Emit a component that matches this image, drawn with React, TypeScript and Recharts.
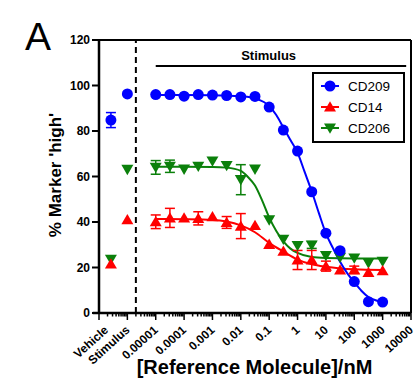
import React from 'react';
import {
  ComposedChart,
  Line,
  Scatter,
  XAxis,
  YAxis,
  ErrorBar,
  ReferenceLine,
  ReferenceDot,
  Legend,
} from 'recharts';

const FONT = '"Liberation Sans", Arial, sans-serif';
const BLUE = '#0000ff';
const RED = '#ff0000';
const GREEN = '#0b800b';

// log10 of concentration (nM)
const concLog = [-5, -4.5, -4, -3.5, -3, -2.5, -2, -1.5, -1, -0.5, 0, 0.5, 1, 1.5, 2, 2.5, 3];
const vehicleX = -6.58;
const stimulusX = -6;

const cd209 = [96, 96, 95.3, 96, 95.8, 95.6, 95, 95.2, 90.5, 80.4, 71.2, 53.3, 35.1, 27.4, 13.8, 5.0, 4.8];
const cd209Err = [0, 0, 0, 0, 0, 0, 0, 0, 0, 0, 0, 0, 0, 0, 0, 0, 0];
const cd209Ctrl = [84.8, 96.3];
const cd209CtrlErr = [3.3, 0];

const cd14 = [40.1, 41.8, 41.8, 41.6, 42.3, 39.8, 38.2, 38.5, 30.2, 27.2, 23.3, 23.3, 20.6, 18.9, 19.0, 17.8, 18.6];
const cd14Err = [3, 4.2, 0, 2.9, 0, 2.6, 5.5, 0, 0, 0, 4.2, 4.2, 2.2, 0, 1.6, 0, 0];
const cd14Ctrl = [21.6, 41.0];

const cd206 = [64, 64.5, 63.2, 64.5, 66.8, 64.8, 58.6, 63.2, 40.9, 32.4, 29.6, 29.9, 25.2, 24.5, 24.1, 22.0, 22.7];
const cd206Err = [3, 2.7, 0, 0, 0, 0, 6.6, 0, 0, 0, 0, 1.5, 0, 0, 0, 0, 0];
const cd206Ctrl = [23.6, 63.1];

// fitted curves
const cd209FitX = [-5, -4, -3, -2, -1.5, -1, -0.75, -0.5, -0.25, 0, 0.25, 0.5, 0.75, 1, 1.25, 1.5, 1.75, 2, 2.25, 2.5, 2.75, 3];
const cd209FitY = [95.8, 95.8, 95.7, 95.3, 94.3, 91, 87, 81.5, 76, 70.5, 62, 53.5, 44, 35, 28.5, 22.5, 17.5, 13.5, 9.8, 7, 5.6, 4.8];

const cd14FitX = [-5, -4, -3, -2.5, -2, -1.5, -1, -0.5, 0, 0.5, 1, 1.5, 2, 3];
const cd14FitY = [41.3, 41.2, 40.9, 40.2, 38.5, 35.5, 30.8, 27, 23.5, 21.4, 20.3, 19.6, 19.2, 18.9];

const cd206FitX = [-5, -4, -3, -2.5, -2, -1.75, -1.5, -1.25, -1, -0.75, -0.5, -0.25, 0, 0.5, 1, 2, 3];
const cd206FitY = [64.3, 64.3, 64.2, 63.9, 62.5, 59.8, 56, 49.5, 42, 36, 31.5, 28.3, 26.4, 24.6, 24.2, 24, 24];

const xTickValues = [-6.75, -6, -5, -4, -3, -2, -1, 0, 1, 2, 3, 4];
const xTickLabels = ['Vehicle', 'Stimulus', '0.00001', '0.0001', '0.001', '0.01', '0.1', '1', '10', '100', '1000', '10000'];
const yTicks = [0, 20, 40, 60, 80, 100, 120];

const seriesNames = ['CD209', 'CD14', 'CD206'];

// axis decoration: log minor ticks
const majorTicks: number[] = [];
const minorTicks: number[] = [];
for (let d = -7; d <= 4; d++) {
  majorTicks.push(d);
  if (d < 4) for (let k = 2; k <= 9; k++) minorTicks.push(d + Math.log10(k));
}
const allTicks = [...majorTicks, ...minorTicks, -6.75].sort((a, b) => a - b);

const mkPts = (ys: number[], errs: number[]) => concLog.map((x, i) => ({ x, y: ys[i], err: errs[i] }));
const mkCtrl = (ys: number[], errs?: number[]) => [
  { x: vehicleX, y: ys[0], err: errs ? errs[0] : 0 },
  { x: stimulusX, y: ys[1], err: errs ? errs[1] : 0 },
];
const mkFit = (xs: number[], ys: number[]) => xs.map((x, i) => ({ x, y: ys[i] }));

const cd209Pts = [...mkCtrl(cd209Ctrl, cd209CtrlErr), ...mkPts(cd209, cd209Err)];
const cd14Pts = [...mkCtrl(cd14Ctrl), ...mkPts(cd14, cd14Err)];
const cd206Pts = [...mkCtrl(cd206Ctrl), ...mkPts(cd206, cd206Err)];

const Circle = (p: any) => <circle cx={p.cx} cy={p.cy} r={5.5} fill={BLUE} />;
const TriUp = (p: any) => (
  <polygon
    points={`${p.cx},${p.cy - 5.7} ${p.cx + 6},${p.cy + 4.6} ${p.cx - 6},${p.cy + 4.6}`}
    fill={RED}
  />
);
const TriDown = (p: any) => (
  <polygon
    points={`${p.cx},${p.cy + 5.7} ${p.cx + 6},${p.cy - 4.6} ${p.cx - 6},${p.cy - 4.6}`}
    fill={GREEN}
  />
);

const XTick = (props: any) => {
  const { x, y, payload } = props;
  const v = payload.value as number;
  const idx = xTickValues.findIndex((t) => Math.abs(t - v) < 1e-6);
  const isMajor = majorTicks.some((t) => Math.abs(t - v) < 1e-6);
  const isMinor = minorTicks.some((t) => Math.abs(t - v) < 1e-6);
  const lx = x + 3;
  const ly = y + 18;
  return (
    <g>
      {(isMajor || isMinor) && (
        <line x1={x} y1={y} x2={x} y2={y + (isMajor ? 7 : 3.5)} stroke="#000" strokeWidth={1.5} />
      )}
      {idx >= 0 && (
        <text
          x={lx}
          y={ly}
          transform={`rotate(-42 ${lx} ${ly})`}
          textAnchor="end"
          fontSize={12}
          fontWeight="bold"
          fontFamily={FONT}
          fill="#000"
        >
          {xTickLabels[idx]}
        </text>
      )}
    </g>
  );
};

const renderLegend = () => {
  const shapes = [
    <circle cx={16} cy={12} r={5.5} fill={BLUE} />,
    <polygon points="16,27.3 22,37.6 10,37.6" fill={RED} />,
    <polygon points="16,59.7 22,49.4 10,49.4" fill={GREEN} />,
  ];
  const colors = [BLUE, RED, GREEN];
  return (
    <div
      style={{
        boxSizing: 'border-box',
        width: 93,
        height: 71,
        border: '2px solid #000',
        background: '#fff',
      }}
    >
      <svg width={89} height={67} style={{ display: 'block' }}>
        {seriesNames.map((n, i) => (
          <g key={n}>
            <line x1={7} x2={25} y1={12 + i * 21} y2={12 + i * 21} stroke={colors[i]} strokeWidth={2} />
            {shapes[i]}
            <text x={34} y={12 + i * 21 + 5} fontSize={13.5} fontFamily={FONT} fill="#000">
              {n}
            </text>
          </g>
        ))}
      </svg>
    </div>
  );
};

export default function App() {
  return (
    <div style={{ position: 'absolute', left: 0, top: 0, width: 419, height: 391, background: '#fff' }}>
      <svg width={60} height={60} style={{ position: 'absolute', left: 0, top: 0 }}>
        <text x={25} y={50} fontSize={39} fontFamily={FONT} fill="#000">
          A
        </text>
      </svg>
      <ComposedChart
        width={419}
        height={391}
        margin={{ top: 40, right: 8, bottom: 0, left: 0 }}
        style={{ position: 'absolute', left: 0, top: 0 }}
      >
        <XAxis
          dataKey="x"
          type="number"
          domain={[-7, 4]}
          allowDataOverflow
          ticks={allTicks}
          interval={0}
          tick={<XTick />}
          tickLine={false}
          tickSize={0}
          tickMargin={0}
          height={78}
          axisLine={{ stroke: '#000', strokeWidth: 2.5 }}
          label={() => (
            <text x={254.5} y={374} textAnchor="middle" fontSize={20} fontWeight="bold" fontFamily={FONT} fill="#000">
              [Reference Molecule]/nM
            </text>
          )}
        />
        <YAxis
          type="number"
          domain={[0, 120]}
          ticks={yTicks}
          interval={0}
          width={99}
          tickSize={7}
          tickMargin={2}
          axisLine={{ stroke: '#000', strokeWidth: 2.5 }}
          tickLine={{ stroke: '#000', strokeWidth: 2 }}
          tick={{ fontSize: 12, fontWeight: 'bold', fill: '#000', fontFamily: FONT }}
          label={() => (
            <text
              x={61}
              y={175}
              transform="rotate(-90 61 175)"
              textAnchor="middle"
              fontSize={17}
              fontWeight="bold"
              fontFamily={FONT}
              fill="#000"
            >
              % Marker 'high'
            </text>
          )}
        />
        <ReferenceLine y={120} stroke="#000" strokeWidth={2} ifOverflow="visible" />
        <ReferenceLine x={4} stroke="#000" strokeWidth={2} ifOverflow="visible" />
        <ReferenceLine
          segment={[
            { x: -7.22, y: 0 },
            { x: -7, y: 0 },
          ]}
          stroke="#000"
          strokeWidth={2.5}
          ifOverflow="visible"
        />
        <ReferenceLine x={-5.7} stroke="#000" strokeWidth={2} strokeDasharray="6 4" ifOverflow="visible" />
        <ReferenceLine
          segment={[
            { x: -5, y: 108.6 },
            { x: 3.83, y: 108.6 },
          ]}
          stroke="#000"
          strokeWidth={2}
          ifOverflow="visible"
        />
        <ReferenceDot
          x={-1.02}
          y={111.2}
          r={0}
          fill="none"
          stroke="none"
          ifOverflow="visible"
          label={(p: any) => (
            <text
              x={p.viewBox ? p.viewBox.x + (p.viewBox.width || 0) / 2 : 268}
              y={p.viewBox ? p.viewBox.y + (p.viewBox.height || 0) / 2 : 60}
              textAnchor="middle"
              fontSize={13}
              fontWeight="bold"
              fontFamily={FONT}
              fill="#000"
            >
              Stimulus
            </text>
          )}
        />
        <Line
          data={mkFit(cd206FitX, cd206FitY)}
          dataKey="y"
          type="monotone"
          stroke={GREEN}
          strokeWidth={2}
          dot={false}
          isAnimationActive={false}
          legendType="none"
        />
        <Line
          data={mkFit(cd14FitX, cd14FitY)}
          dataKey="y"
          type="monotone"
          stroke={RED}
          strokeWidth={2}
          dot={false}
          isAnimationActive={false}
          legendType="none"
        />
        <Line
          data={mkFit(cd209FitX, cd209FitY)}
          dataKey="y"
          type="monotone"
          stroke={BLUE}
          strokeWidth={2}
          dot={false}
          isAnimationActive={false}
          legendType="none"
        />
        <Scatter name="CD206" data={cd206Pts} dataKey="y" shape={TriDown} isAnimationActive={false}>
          <ErrorBar dataKey="err" direction="y" width={5} stroke={GREEN} strokeWidth={1.5} isAnimationActive={false} />
        </Scatter>
        <Scatter name="CD14" data={cd14Pts} dataKey="y" shape={TriUp} isAnimationActive={false}>
          <ErrorBar dataKey="err" direction="y" width={5} stroke={RED} strokeWidth={1.5} isAnimationActive={false} />
        </Scatter>
        <Scatter name="CD209" data={cd209Pts} dataKey="y" shape={Circle} isAnimationActive={false}>
          <ErrorBar dataKey="err" direction="y" width={5} stroke={BLUE} strokeWidth={1.5} isAnimationActive={false} />
        </Scatter>
        <Legend
          layout="vertical"
          align="center"
          verticalAlign="middle"
          content={renderLegend}
          wrapperStyle={{ left: 312, top: 72, width: 93, height: 71, bottom: 'auto', right: 'auto' }}
        />
      </ComposedChart>
    </div>
  );
}
